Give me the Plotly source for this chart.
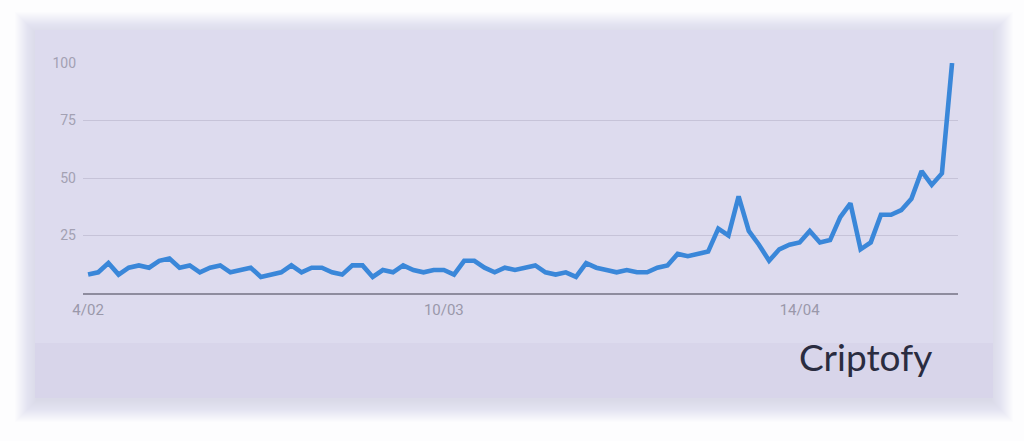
import plotly.graph_objects as go
import pandas as pd

# Daily interest values starting 4 Feb 2020
start_date = "2020-02-04"
values = [8, 9, 13, 8, 11, 12, 11, 14, 15, 11, 12, 9, 11, 12, 9, 10, 11, 7, 8, 9,
          12, 9, 11, 11, 9, 8, 12, 12, 7,
          10, 9, 12, 10, 9, 10, 10, 8, 14, 14, 11, 9, 11, 10, 11, 12, 9, 8, 9, 7,
          13, 11, 10, 9, 10, 9, 9,
          11, 12, 17, 16, 17, 18, 28, 25, 42, 27, 21, 14, 19, 21, 22, 27, 22, 23,
          33, 39, 19, 22, 34, 34, 36, 41, 53, 47, 52, 100]
dates = pd.date_range(start_date, periods=len(values), freq="D")

tick_dates = ["2020-02-04", "2020-03-10", "2020-04-14"]
tick_labels = ["4/02", "10/03", "14/04"]
y_ticks = [25, 50, 75, 100]
watermark = "Criptofy"

fig = go.Figure()
fig.add_trace(go.Scatter(
    x=dates, y=values, mode="lines",
    line=dict(color="#3a87d9", width=4.6, shape="linear"),
    hoverinfo="skip", showlegend=False,
))

PL, PR, PT, PB = 83, 958, 63, 293
PW, PH = PR - PL, PB - PT


def px(x):
    return (x - PL) / PW


def py(y):
    return (PB - y) / PH


shapes = []
# soft shadow around the panel
x0, y0, x1, y1 = 35, 30, 993, 398
n = 22
for i in range(n):
    d = n - i
    shapes.append(dict(type="rect", xref="paper", yref="paper", layer="below",
                       x0=px(x0 - d + 2), x1=px(x1 + d - 2),
                       y0=py(y1 + d + 2), y1=py(y0 - d + 4),
                       line=dict(width=0), fillcolor="rgba(205,203,228,0.035)"))
# main panel
shapes.append(dict(type="rect", xref="paper", yref="paper", layer="below",
                   x0=px(x0), x1=px(x1), y0=py(y1), y1=py(y0),
                   line=dict(width=0), fillcolor="#dddbee"))
# lower band
shapes.append(dict(type="rect", xref="paper", yref="paper", layer="below",
                   x0=px(x0), x1=px(x1), y0=py(y1), y1=py(343),
                   line=dict(width=0), fillcolor="#d8d5ea"))

fig.update_layout(
    width=1024, height=441,
    margin=dict(l=PL, r=1024 - PR, t=PT, b=441 - PB),
    paper_bgcolor="#fdfdfe",
    plot_bgcolor="rgba(0,0,0,0)",
    shapes=shapes,
    xaxis=dict(
        range=[pd.Timestamp(start_date) - pd.Timedelta(hours=12),
               pd.Timestamp(start_date) + pd.Timedelta(hours=int(85.6 * 24))],
        tickmode="array", tickvals=tick_dates, ticktext=tick_labels,
        showgrid=False, zeroline=False,
        showline=True, linecolor="#8e8c9e", linewidth=2,
        ticks="", ticklabelstandoff=2,
        tickfont=dict(family="Roboto", size=15, color="#9a98aa"),
    ),
    yaxis=dict(
        range=[0, 100], tickmode="array", tickvals=y_ticks,
        showgrid=True, gridcolor="#c6c3d8", gridwidth=1,
        zeroline=False, showline=False, ticks="",
        ticklabelstandoff=6,
        tickfont=dict(family="Roboto", size=14, color="#a3a1b3"),
    ),
    annotations=[dict(
        text=watermark, xref="paper", yref="paper",
        x=px(865), y=py(356),
        xanchor="center", yanchor="middle", showarrow=False,
        font=dict(family="Lato", size=37, color="#2a2c40"),
    )],
)

fig.write_html("out.html", config={"displayModeBar": False},
               post_script="document.body.style.margin='0';")
